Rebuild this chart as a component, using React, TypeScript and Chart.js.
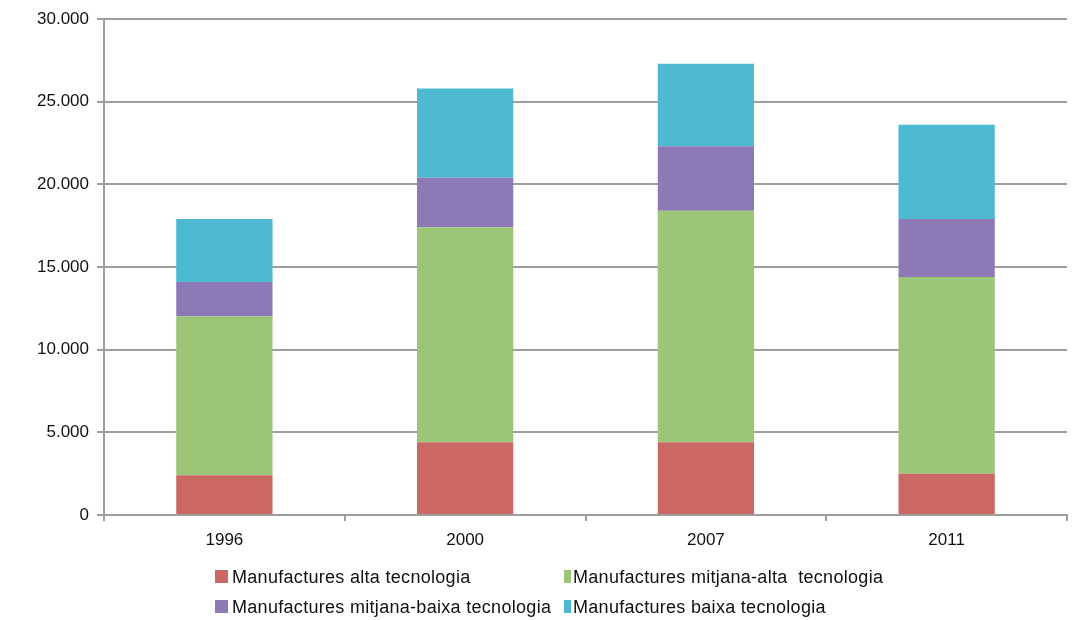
import React, { useEffect, useRef } from "react";
import { Chart, registerables } from "chart.js";

Chart.register(...registerables);

const years = ["1996", "2000", "2007", "2011"];
const seriesNames = [
  "Manufactures alta tecnologia",
  "Manufactures mitjana-alta  tecnologia",
  "Manufactures mitjana-baixa tecnologia",
  "Manufactures baixa tecnologia",
];
const alta = [2400, 4400, 4400, 2500];
const mitjanaAlta = [9600, 13000, 14000, 11900];
const mitjanaBaixa = [2100, 3000, 3900, 3500];
const baixa = [3800, 5400, 5000, 5700];
const colors = ["#CC6863", "#9DC577", "#8C79B6", "#4DBAD1"];
const yTicks = [0, 5000, 10000, 15000, 20000, 25000, 30000];

const FONT = "'Liberation Sans', Arial, sans-serif";
const GRID = "#9e9e9e";

function fmt(v: number): string {
  return String(Math.round(v)).replace(/\B(?=(\d{3})+(?!\d))/g, ".");
}

export default function App() {
  const ref = useRef<HTMLCanvasElement | null>(null);

  useEffect(() => {
    if (!ref.current) return;
    const values = [alta, mitjanaAlta, mitjanaBaixa, baixa];
    const chart = new Chart(ref.current, {
      type: "bar",
      data: {
        labels: years,
        datasets: values.map((v, i) => ({
          label: seriesNames[i],
          data: v,
          backgroundColor: colors[i],
          borderWidth: 0,
          categoryPercentage: 1,
          barPercentage: 0.4,
        })),
      },
      options: {
        responsive: false,
        animation: false,
        layout: { padding: { top: 19, right: 17, left: 0, bottom: 0 } },
        plugins: { legend: { display: false }, tooltip: { enabled: false } },
        scales: {
          x: {
            stacked: true,
            afterFit: (s: any) => {
              s.height = 105;
            },
            border: { display: true, color: GRID, width: 2 },
            grid: {
              drawOnChartArea: false,
              drawTicks: true,
              offset: true,
              tickLength: 6,
              color: GRID,
              lineWidth: 2,
            },
            ticks: {
              color: "#111",
              font: { family: FONT, size: 17 },
              padding: 9,
            },
          },
          y: {
            stacked: true,
            min: 0,
            max: 30000,
            afterFit: (s: any) => {
              s.width = 104;
            },
            afterBuildTicks: (s: any) => {
              s.ticks = yTicks.map((v) => ({ value: v }));
            },
            border: { display: true, color: GRID, width: 2 },
            grid: {
              color: GRID,
              lineWidth: 2,
              tickLength: 7,
            },
            ticks: {
              color: "#111",
              font: { family: FONT, size: 17 },
              padding: 8,
              callback: (v: any) => fmt(Number(v)),
            },
          },
        },
      },
    });
    return () => chart.destroy();
  }, []);

  const legendPos = [
    { x: 215, y: 577, w: 13, tx: 232 },
    { x: 564, y: 577, w: 7, tx: 573 },
    { x: 215, y: 607, w: 13, tx: 232 },
    { x: 564, y: 607, w: 7, tx: 573 },
  ];

  return (
    <div
      style={{
        position: "fixed",
        left: 0,
        top: 0,
        width: 1084,
        height: 620,
        background: "#fff",
      }}
    >
      <canvas ref={ref} width={1084} height={620} style={{ display: "block" }} />
      {seriesNames.map((name, i) => {
        const p = legendPos[i];
        return (
          <React.Fragment key={name}>
            <div
              style={{
                position: "absolute",
                left: p.x,
                top: p.y - 7,
                width: p.w,
                height: 13,
                background: colors[i],
              }}
            />
            <div
              style={{
                position: "absolute",
                left: p.tx,
                top: p.y - 11,
                fontFamily: FONT,
                fontSize: 18,
                letterSpacing: "0.3px",
                lineHeight: "22px",
                color: "#111",
                whiteSpace: "pre",
              }}
            >
              {name}
            </div>
          </React.Fragment>
        );
      })}
    </div>
  );
}
